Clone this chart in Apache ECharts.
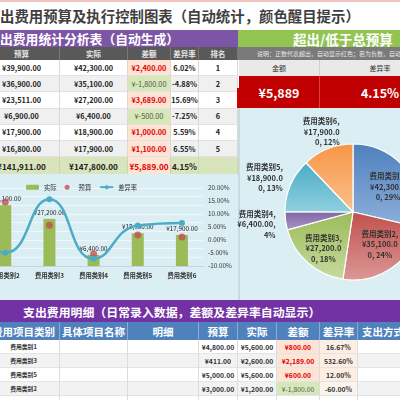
<!DOCTYPE html>
<html>
<head>
<meta charset="utf-8">
<script src="https://cdn.jsdelivr.net/npm/echarts@6/dist/echarts.min.js"></script>
<style>
  html, body { margin: 0; padding: 0; }
  body { width: 400px; height: 400px; overflow: hidden; position: relative; background: #fff;
         font-family: "Noto Sans CJK SC", "Noto Sans", sans-serif; }
  .box { position: absolute; box-sizing: border-box; display: flex; align-items: center;
         justify-content: center; white-space: nowrap; overflow: hidden; }
  .chart { position: absolute; z-index: 10; }
</style>
</head>
<body>
<div id="combo" class="chart" style="left:-70px;top:174px;width:308px;height:126px;"></div>
<div id="pie" class="chart" style="left:230px;top:108px;width:210px;height:192px;"></div>
<script>
// 汇总表数据
var categories = ['费用类别1', '费用类别2', '费用类别3', '费用类别4', '费用类别5', '费用类别6']
var budget = [39900, 36900, 23511, 6900, 17900, 16800]
var actual = [42300, 35100, 27200, 6400, 18900, 17900]
var diffs = [2400, -1800, 3689, -500, 1000, 1100]
var rates = [6.02, -4.88, 15.69, -7.25, 5.59, 6.55]
var ranks = [1, 2, 3, 6, 4, 5]
var totals = [141911, 147800, 5889, 4.15]

// 明细表数据
var detailCats = ['费用类别1', '费用类别3', '费用类别5', '费用类别2']
var detailBudget = [4800, 411, 5000, 3000]
var detailActual = [5600, 2600, 5600, 1200]
var detailDiff = [800, 2189, 600, -1800]
var detailRate = [16.67, 532.60, 12.00, -60.00]

// 右轴刻度
var rateTicks = [-0.1, 0.2, 0.05]

var pieColors = ['#4f81bd', '#c0504d', '#9bbb59', '#8064a2', '#4bacc6', '#f79646']
var pieLight = ['#8eb0dc', '#dc9896', '#c7da9f', '#a896c4', '#8fd0e0', '#fbc08e']

function money(v) {
    return '¥' + v.toLocaleString('en-US', { minimumFractionDigits: 2, maximumFractionDigits: 2 })
}

function box(x, y, w, h, bg, text, css) {
    var d = document.createElement('div')
    d.className = 'box'
    d.style.left = x + 'px'
    d.style.top = y + 'px'
    d.style.width = w + 'px'
    d.style.height = h + 'px'
    if (bg) d.style.background = bg
    if (text !== undefined && text !== null) d.textContent = text
    if (css) d.style.cssText += css
    document.body.appendChild(d)
    return d
}

// 标题
box(0, 0, 400, 1.5, '#f2c4c0')
box(0, 1.5, 400, 28.5, '#fff', '出费用预算及执行控制图表（自动统计，颜色醒目提示）',
    'justify-content:flex-start;font-weight:bold;font-size:14.4px;color:#3f3f3f;')
box(0, 30, 238, 17, '#7d55a6', '出费用统计分析表（自动生成）',
    'justify-content:flex-start;font-weight:bold;font-size:12.8px;color:#fff;')
box(238, 30, 162, 17, '#92c353', '超出/低于总预算',
    'justify-content:flex-start;padding-left:55px;font-weight:bold;font-size:13.5px;color:#fff;')

// 左上表格
var cols = [[-16, 60], [60, 128], [128, 171], [171, 199], [199, 238]]
var heads = ['预算', '实际', '差额', '差异率', '排名']
cols.forEach(function (c, i) {
    box(c[0], 47, c[1] - c[0], 13, '#595959', heads[i],
        'font-weight:bold;font-size:7.5px;color:#e6e6e6;border-right:1px solid #777;')
})
var rh = 16.2
for (var r = 0; r < categories.length; r++) {
    var y = 60 + r * rh
    var bg = r % 2 === 0 ? '#ffffff' : '#f0f0f0'
    var cellCss = 'font-weight:bold;font-size:7.3px;color:#222;border-right:1px solid #d9d9d9;border-bottom:1px solid #e2e2e2;'
    box(cols[0][0], y, cols[0][1] - cols[0][0], rh, bg, money(budget[r]), cellCss)
    box(cols[1][0], y, cols[1][1] - cols[1][0], rh, bg, money(actual[r]), cellCss)
    if (diffs[r] > 0) {
        box(cols[2][0], y, cols[2][1] - cols[2][0], rh, '#fde4d4', money(diffs[r]), cellCss + 'color:#e00000;')
    } else {
        box(cols[2][0], y, cols[2][1] - cols[2][0], rh, '#d6e7b8', money(diffs[r]), cellCss + 'color:#555;font-weight:normal;')
    }
    box(cols[3][0], y, cols[3][1] - cols[3][0], rh, bg, rates[r].toFixed(2) + '%', cellCss)
    box(cols[4][0], y, cols[4][1] - cols[4][0], rh, bg, String(ranks[r]), cellCss)
}
var ty = 60 + 6 * rh
var totCss = 'font-weight:bold;font-size:8.2px;color:#222;border-right:1px solid #c8d6a8;'
box(cols[0][0], ty, cols[0][1] - cols[0][0], 174 - ty, '#d8e4bc', money(totals[0]), totCss)
box(cols[1][0], ty, cols[1][1] - cols[1][0], 174 - ty, '#d8e4bc', money(totals[1]), totCss)
box(cols[2][0], ty, cols[2][1] - cols[2][0], 174 - ty, '#fde4d4', money(totals[2]), totCss + 'color:#e00000;')
box(cols[3][0], ty, cols[3][1] - cols[3][0], 174 - ty, '#d8e4bc', totals[3].toFixed(2) + '%', totCss)
box(cols[4][0], ty, cols[4][1] - cols[4][0], 174 - ty, '#d8e4bc', '', totCss)
box(236.5, 60 + 2 * rh - 4, 3, rh + 3, '#d00000')

// 右上汇总
box(238, 47, 162, 13, '#7a7a7a', '说明：正数代表超出，自动显示红色；若为负数，自动显示绿色',
    'justify-content:flex-start;padding-left:19px;font-size:6px;color:#e6e6e6;')
box(239, 60, 81, 16, '#e9e9e9', '金额', 'font-size:7px;color:#333;border-right:1px solid #d0d0d0;')
box(320, 60, 120, 16, '#e9e9e9', '差异率', 'font-size:7px;color:#333;')
box(239, 76, 81, 32, '#c00000', '¥5,889', 'font-weight:bold;font-size:12.5px;color:#fff;border-right:1px solid #d94040;')
box(320, 76, 120, 32, '#c00000', '4.15%', 'font-weight:bold;font-size:12.5px;color:#fff;')

// 图表背景
box(0, 174, 238, 126, '#dbeef4')
box(238, 108, 2, 192, '#c9d9df')
box(240, 108, 160, 192, '#dbeef4')

// 底部明细表
box(0, 300, 400, 22, '#7232a4', '支出费用明细（日常录入数据，差额及差异率自动显示）',
    'justify-content:flex-start;padding-left:23px;font-weight:bold;font-size:11.9px;color:#fff;')
var dcols = [[-12, 60], [60, 128], [128, 199], [199, 238], [238, 277], [277, 320], [320, 358], [358, 440]]
var dheads = ['费用项目类别', '具体项目名称', '明细', '预算', '实际', '差额', '差异率', '支出方式']
dcols.forEach(function (c, i) {
    box(c[0], 322, c[1] - c[0], 18, '#4f81bd', dheads[i],
        'font-weight:bold;font-size:10.5px;color:#fff;border-right:1px solid #8eaad5;' +
        (i === 7 ? 'justify-content:flex-start;padding-left:4px;' : ''))
})
for (var k = 0; k < 5; k++) {
    var yy = 340 + k * 14
    var rbg = k % 2 === 0 ? '#ffffff' : '#f2f2f2'
    var dcss = 'font-weight:bold;font-size:6.8px;color:#333;border-right:1px solid #dcdcdc;border-bottom:1px solid #e4e4e4;'
    var has = k < detailCats.length
    box(dcols[0][0], yy, dcols[0][1] - dcols[0][0], 14, rbg, has ? detailCats[k] : '', dcss + 'font-size:5.8px;')
    box(dcols[1][0], yy, dcols[1][1] - dcols[1][0], 14, rbg, '', dcss)
    box(dcols[2][0], yy, dcols[2][1] - dcols[2][0], 14, rbg, '', dcss)
    box(dcols[3][0], yy, dcols[3][1] - dcols[3][0], 14, rbg, has ? money(detailBudget[k]) : '', dcss)
    box(dcols[4][0], yy, dcols[4][1] - dcols[4][0], 14, rbg, has ? money(detailActual[k]) : '', dcss)
    if (has && detailDiff[k] > 0) {
        box(dcols[5][0], yy, dcols[5][1] - dcols[5][0], 14, '#fde4d4', money(detailDiff[k]), dcss + 'color:#e00000;')
        box(dcols[6][0], yy, dcols[6][1] - dcols[6][0], 14, '#fdeee4', detailRate[k].toFixed(2) + '%', dcss)
    } else if (has) {
        box(dcols[5][0], yy, dcols[5][1] - dcols[5][0], 14, '#d6e7b8', money(detailDiff[k]), dcss + 'color:#555;font-weight:normal;')
        box(dcols[6][0], yy, dcols[6][1] - dcols[6][0], 14, '#faf3ee', detailRate[k].toFixed(2) + '%', dcss)
    } else {
        box(dcols[5][0], yy, dcols[5][1] - dcols[5][0], 14, rbg, '', dcss)
        box(dcols[6][0], yy, dcols[6][1] - dcols[6][0], 14, rbg, '', dcss)
    }
    box(dcols[7][0], yy, dcols[7][1] - dcols[7][0], 14, rbg, '', dcss)
}

// 组合图
var comboChart = echarts.init(document.getElementById('combo'))
comboChart.setOption({
    animation: false,
    textStyle: { fontFamily: 'Noto Sans CJK SC' },
    legend: {
        left: 91, top: 5,
        itemWidth: 13, itemHeight: 5, itemGap: 8,
        textStyle: { fontSize: 6.3, color: '#333' },
        data: ['实际', '预算', '差异率']
    },
    grid: { left: 9, right: 34, top: 14, bottom: 34 },
    xAxis: {
        type: 'category',
        data: categories,
        axisTick: { show: false },
        axisLine: { lineStyle: { color: '#c4d4da' } },
        axisLabel: { fontSize: 6.3, color: '#333', margin: 6, fontWeight: 'bold' }
    },
    yAxis: [
        {
            type: 'value', min: 0, max: 45000, interval: 5000,
            axisLabel: { show: false },
            splitLine: { lineStyle: { color: '#eef7fa', width: 1 } }
        },
        {
            type: 'value', position: 'right',
            min: rateTicks[0], max: rateTicks[1], interval: rateTicks[2],
            axisLine: { show: false }, axisTick: { show: false },
            splitLine: { show: false },
            axisLabel: {
                fontSize: 6.3, color: '#333', margin: 4,
                formatter: function (v) { return (v * 100).toFixed(2) + '%' }
            }
        }
    ],
    series: [
        {
            name: '实际', type: 'bar', yAxisIndex: 0, barWidth: 12,
            itemStyle: { color: '#9bbb59' },
            label: {
                show: true, position: 'top', distance: 3,
                fontSize: 6.3, color: '#222',
                formatter: function (p) { return money(p.value) }
            },
            data: actual
        },
        {
            name: '预算', type: 'scatter', yAxisIndex: 0, symbolSize: 7,
            itemStyle: { color: '#c0504d' },
            data: budget
        },
        {
            name: '差异率', type: 'line', yAxisIndex: 1, smooth: 0.5,
            symbol: 'circle', symbolSize: 6,
            itemStyle: { color: '#4bacc6' },
            lineStyle: { color: '#4bacc6', width: 2.5 },
            data: rates.map(function (v) { return v / 100 })
        }
    ]
})

// 饼图
function pieLabel(p) {
    var rest = money(p.value) + ', ' + Math.round(p.percent) + '%'
    var first = rest.slice(0, 9)
    var second = rest.slice(9)
    if (second.charAt(0) === ',') {
        first += ','
        second = second.slice(1)
    }
    return p.name + ',\n' + first + '\n' + second.trim()
}

// 标签微调（模仿 Excel 的最佳位置）
var labelShift = [[6, -2], [6, 2], [-5, 9], [0, 3], [2, -6], [20, -14]]

var pieChart = echarts.init(document.getElementById('pie'))
pieChart.setOption({
    animation: false,
    textStyle: { fontFamily: 'Noto Sans CJK SC' },
    series: [{
        type: 'pie',
        center: [123, 104],
        radius: 68,
        startAngle: 90,
        clockwise: true,
        itemStyle: { borderColor: '#fff', borderWidth: 1.2 },
        label: {
            formatter: pieLabel,
            fontSize: 7.5, fontWeight: 'bold', color: '#333', lineHeight: 10.5,
            align: 'center', overflow: 'none'
        },
        labelLine: { show: false, length: 3, length2: 2 },
        labelLayout: function (params) {
            var s = labelShift[params.dataIndex]
            return { dx: s[0], dy: s[1] }
        },
        data: categories.map(function (name, i) {
            return {
                name: name,
                value: actual[i],
                itemStyle: {
                    color: new echarts.graphic.LinearGradient(0, 0, 0, 1, [
                        { offset: 0, color: pieColors[i] },
                        { offset: 1, color: pieLight[i] }
                    ])
                },
                label: { position: i < 3 ? 'inside' : 'outside' }
            }
        })
    }]
})
</script>
</body>
</html>
